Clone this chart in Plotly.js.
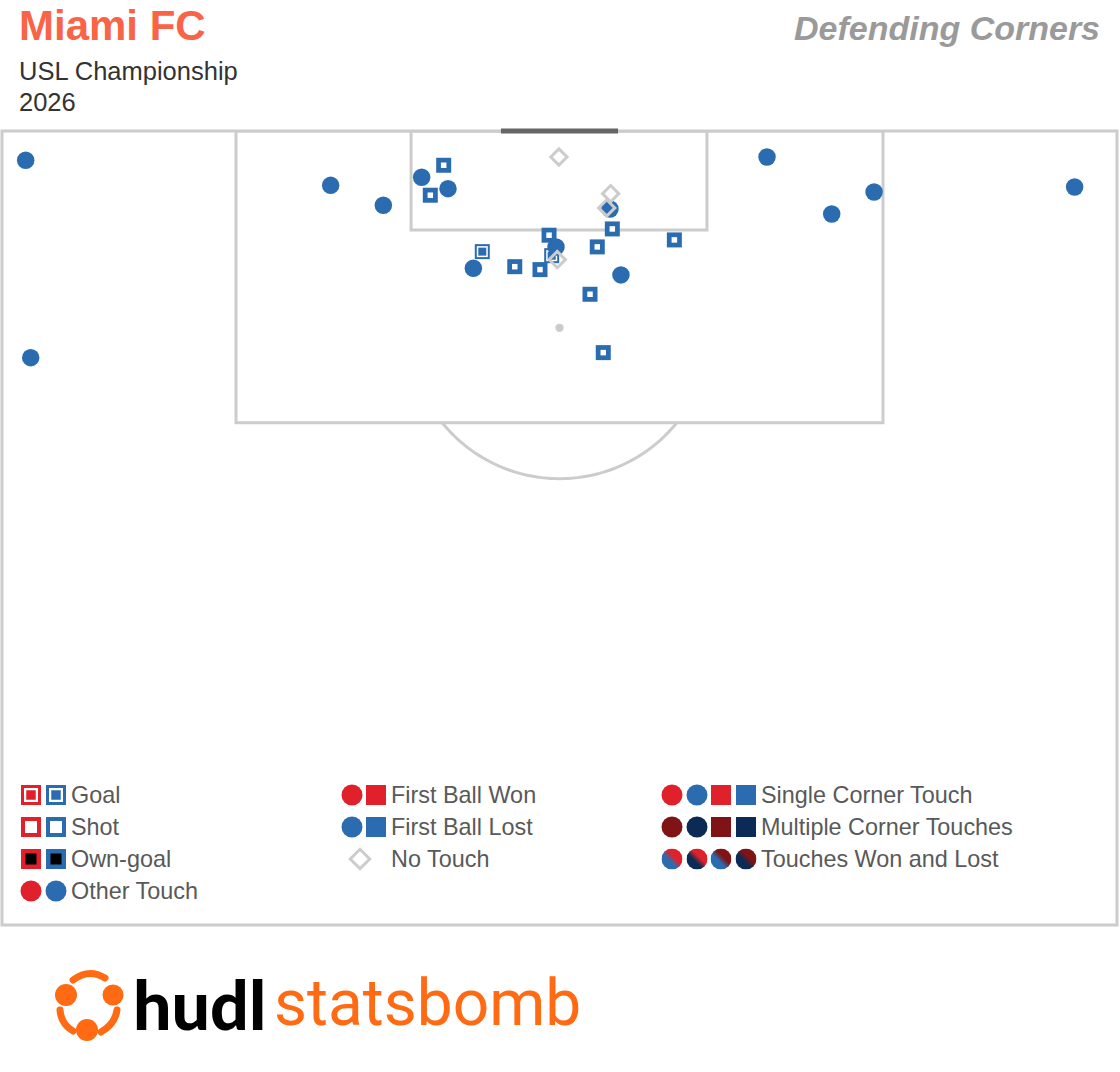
<!DOCTYPE html>
<html>
<head>
<meta charset="utf-8">
<script src="https://cdn.plot.ly/plotly-3.0.1.min.js"></script>
<style>
html,body{margin:0;padding:0;background:#fff;}
#chart{width:1120px;height:1072px;}
</style>
</head>
<body>
<div id="chart"></div>
<script>
// ---------------- DATA (pitch units: x across the pitch 0..80, y = distance from goal line) -------------
// First Ball Lost - other touch (circles)
const lostTouchX = [1.70, 2.06, 23.58, 27.36, 30.11, 32.00, 43.62, 39.75, 33.82, 44.41, 54.89, 59.53, 62.57, 76.96];
const lostTouchY = [2.10, 16.27, 3.90, 5.33, 3.32, 4.14, 5.60, 8.32, 9.85, 10.33, 1.87, 5.96, 4.38, 4.02];
// First Ball Lost - shots (squares)
const lostShotX = [31.69, 30.73, 39.25, 43.79, 42.71, 48.24, 36.79, 38.60, 42.19, 43.14];
const lostShotY = [2.46, 4.61, 7.48, 7.03, 8.32, 7.82, 9.74, 9.95, 11.72, 15.91];
// First Ball Lost - goals
const lostGoalX = [34.46, 39.44];
const lostGoalY = [8.66, 8.95];
// No touch
const noTouchX = [39.96, 43.67, 43.39, 39.84];
const noTouchY = [1.87, 4.50, 5.52, 9.23];

// Legend labels
const legendCol1 = ['Goal', 'Shot', 'Own-goal', 'Other Touch'];
const legendCol2 = ['First Ball Won', 'First Ball Lost', 'No Touch'];
const legendCol3 = ['Single Corner Touch', 'Multiple Corner Touches', 'Touches Won and Lost'];

// Titles
const titleTeam = 'Miami FC';
const titleComp = 'USL Championship';
const titleSeason = '2026';
const titleRight = 'Defending Corners';

// ---------------- STYLE / GEOMETRY -------------
const BLUE = '#2b6cb1', RED = '#e0212b', DRED = '#801315', NAVY = '#0b2a55';
const LINE = '#cccccc', TXT = '#595959';
const FONT = 'Liberation Sans, Arial, Helvetica, sans-serif';
const W = 80, H = 57;
const pitch = {boxL:16.79, boxR:63.21, boxD:20.95, sixL:29.35, sixR:50.58, sixD:7.10,
               goalL:35.80, goalR:44.20, spotX:40, spotY:14.13, arcR:10.83};

// page-pixel helpers for paper-anchored items (plot area: x 2..1117, y 131..925)
const PL = 2, PR = 1117, PT = 131, PB = 925;
const px = p => (p - PL) / (PR - PL);
const py = p => (PB - p) / (PB - PT);

const traces = [];
// shots: blue square with white centre
traces.push({x: lostShotX, y: lostShotY, type:'scatter', mode:'markers', hoverinfo:'skip',
  marker:{symbol:'square', size:15, color:BLUE, line:{width:0}}});
traces.push({x: lostShotX, y: lostShotY, type:'scatter', mode:'markers', hoverinfo:'skip',
  marker:{symbol:'square', size:5.5, color:'#ffffff', line:{width:0}}});
// goals: blue square, white ring, blue centre
traces.push({x: lostGoalX, y: lostGoalY, type:'scatter', mode:'markers', hoverinfo:'skip',
  marker:{symbol:'square', size:15, color:BLUE, line:{width:0}}});
traces.push({x: lostGoalX, y: lostGoalY, type:'scatter', mode:'markers', hoverinfo:'skip',
  marker:{symbol:'square', size:11, color:'#ffffff', line:{width:0}}});
traces.push({x: lostGoalX, y: lostGoalY, type:'scatter', mode:'markers', hoverinfo:'skip',
  marker:{symbol:'square', size:8, color:BLUE, line:{width:0}}});
// other touch circles
traces.push({x: lostTouchX, y: lostTouchY, type:'scatter', mode:'markers', hoverinfo:'skip',
  marker:{symbol:'circle', size:17.5, color:BLUE, line:{width:0}}});
// no touch diamonds
traces.push({x: noTouchX, y: noTouchY, type:'scatter', mode:'markers', hoverinfo:'skip',
  marker:{symbol:'diamond-open', size:12.5, color:LINE, line:{width:3, color:LINE}}});

// ---------------- LEGEND (overlay axis in page pixels) -------------
const L1x = [31, 56], L1t = 69;
const L2c = 352, L2s = 376, L2d = 360, L2t = 389;
const L3x = [672, 697, 721, 746], L3t = 759;
const rows = [795, 827, 859, 891];
function lg(xs, ys, symbol, size, color, extra) {
  const m = Object.assign({symbol, size, color, line:{width:0}}, extra || {});
  traces.push({x: xs, y: ys, xaxis:'x2', yaxis:'y2', type:'scatter', mode:'markers', hoverinfo:'skip', marker:m});
}
// col 1
lg([L1x[0]], [rows[0]], 'square', 20, RED); lg([L1x[1]], [rows[0]], 'square', 20, BLUE);
lg(L1x, [rows[0], rows[0]], 'square', 14, '#ffffff');
lg([L1x[0]], [rows[0]], 'square', 9.5, RED); lg([L1x[1]], [rows[0]], 'square', 9.5, BLUE);
lg([L1x[0]], [rows[1]], 'square', 20, RED); lg([L1x[1]], [rows[1]], 'square', 20, BLUE);
lg(L1x, [rows[1], rows[1]], 'square', 12, '#ffffff');
lg([L1x[0]], [rows[2]], 'square', 20, RED); lg([L1x[1]], [rows[2]], 'square', 20, BLUE);
lg(L1x, [rows[2], rows[2]], 'square', 11, '#000000');
lg([L1x[0]], [rows[3]], 'circle', 21, RED); lg([L1x[1]], [rows[3]], 'circle', 21, BLUE);
// col 2
lg([L2c], [rows[0]], 'circle', 21, RED); lg([L2s], [rows[0]], 'square', 20, RED);
lg([L2c], [rows[1]], 'circle', 21, BLUE); lg([L2s], [rows[1]], 'square', 20, BLUE);
lg([L2d], [rows[2]], 'diamond-open', 15, LINE, {line:{width:3, color:LINE}});
// col 3
lg([L3x[0]], [rows[0]], 'circle', 21, RED); lg([L3x[1]], [rows[0]], 'circle', 21, BLUE);
lg([L3x[2]], [rows[0]], 'square', 20, RED); lg([L3x[3]], [rows[0]], 'square', 20, BLUE);
lg([L3x[0]], [rows[1]], 'circle', 21, DRED); lg([L3x[1]], [rows[1]], 'circle', 21, NAVY);
lg([L3x[2]], [rows[1]], 'square', 20, DRED); lg([L3x[3]], [rows[1]], 'square', 20, NAVY);

function splitCircle(lo, hi) {
  const svg = "<svg xmlns='http://www.w3.org/2000/svg' width='42' height='42' viewBox='0 0 42 42'>" +
    "<defs><linearGradient id='g' x1='0' y1='1' x2='1' y2='0'>" +
    "<stop offset='0.40' stop-color='" + lo + "'/><stop offset='0.60' stop-color='" + hi + "'/>" +
    "</linearGradient></defs><circle cx='21' cy='21' r='21' fill='url(#g)'/></svg>";
  return 'data:image/svg+xml;charset=utf-8,' + encodeURIComponent(svg);
}
const splitPairs = [[BLUE, RED], [NAVY, RED], [BLUE, DRED], [NAVY, DRED]];
const images = splitPairs.map((p, i) => ({source: splitCircle(p[0], p[1]), xref:'x2', yref:'y2',
  x: L3x[i], y: rows[2], sizex: 21, sizey: 21, xanchor:'center', yanchor:'middle', sizing:'stretch', layer:'above'}));

// logo icon
const OR = '#ff6a13';
const iconSvg = "<svg xmlns='http://www.w3.org/2000/svg' width='144' height='148' viewBox='0 0 72 74'>" +
  "<g fill='" + OR + "'><circle cx='13' cy='27' r='11'/><circle cx='60' cy='27' r='10.5'/><circle cx='34' cy='62' r='11'/></g>" +
  "<g fill='none' stroke='" + OR + "' stroke-width='7' stroke-linecap='round'>" +
  "<path d='M20 12 Q36 0 52 10'/><path d='M64 42 Q62 56 48 64'/><path d='M7 42 Q8 56 20 63'/></g></svg>";
images.push({source: 'data:image/svg+xml;charset=utf-8,' + encodeURIComponent(iconSvg), xref:'paper', yref:'paper',
  x: px(53), y: py(968), sizex: 72/(PR-PL), sizey: 74/(PB-PT), xanchor:'left', yanchor:'top', sizing:'stretch', layer:'above'});

// ---------------- ANNOTATIONS -------------
const ann = [];
function legText(t, x, y) {
  ann.push({text: t, x, y, xref:'x2', yref:'y2', xanchor:'left', yanchor:'middle', showarrow:false,
    font:{family:FONT, size:23.4, color:TXT}});
}
legendCol1.forEach((t, i) => legText(t, L1t, rows[i]));
legendCol2.forEach((t, i) => legText(t, L2t, rows[i]));
legendCol3.forEach((t, i) => legText(t, L3t, rows[i]));

ann.push({text: '<b>' + titleTeam + '</b>', xref:'paper', yref:'paper', x: px(17), y: py(25), xanchor:'left', yanchor:'middle',
  showarrow:false, font:{family:FONT, size:42, color:'#fa6446'}});
ann.push({text: titleComp, xref:'paper', yref:'paper', x: px(17), y: py(71), xanchor:'left', yanchor:'middle',
  showarrow:false, font:{family:FONT, size:25.5, color:'#333333'}});
ann.push({text: titleSeason, xref:'paper', yref:'paper', x: px(17), y: py(102), xanchor:'left', yanchor:'middle',
  showarrow:false, font:{family:FONT, size:25.5, color:'#333333'}});
ann.push({text: '<b><i>' + titleRight + '</i></b>', xref:'paper', yref:'paper', x: px(1102), y: py(28), xanchor:'right', yanchor:'middle',
  showarrow:false, font:{family:FONT, size:34, color:'#9a9a9a'}});
// logo words
ann.push({text: 'hudl', xref:'paper', yref:'paper', x: px(131), y: py(1003), xanchor:'left', yanchor:'middle',
  showarrow:false, font:{family:'Lato, Roboto, sans-serif', size:68, weight:900, color:'#000000'}});
ann.push({text: 'statsbomb', xref:'paper', yref:'paper', x: px(272), y: py(1003), xanchor:'left', yanchor:'middle',
  showarrow:false, font:{family:'Roboto, Open Sans, sans-serif', size:64, weight:400, color:OR}});

// ---------------- PITCH SHAPES -------------
const arcPts = [];
const phi0 = Math.acos((pitch.boxD - pitch.spotY) / pitch.arcR);
for (let i = 0; i <= 60; i++) {
  const f = -phi0 + (2 * phi0) * i / 60;
  arcPts.push([pitch.spotX + pitch.arcR * Math.sin(f), pitch.spotY + pitch.arcR * Math.cos(f)]);
}
const arcPath = 'M' + arcPts.map(p => p[0].toFixed(3) + ',' + p[1].toFixed(3)).join(' L');
const ln = {color: LINE, width: 3};
const shapes = [
  {type:'rect', xref:'x', yref:'y', x0:pitch.boxL, x1:pitch.boxR, y0:0, y1:pitch.boxD, line:ln, layer:'below'},
  {type:'rect', xref:'x', yref:'y', x0:pitch.sixL, x1:pitch.sixR, y0:0, y1:pitch.sixD, line:ln, layer:'below'},
  {type:'path', xref:'x', yref:'y', path: arcPath, line:ln, layer:'below'},
  {type:'circle', xref:'x', yref:'y', x0:pitch.spotX-0.3, x1:pitch.spotX+0.3, y0:pitch.spotY-0.3, y1:pitch.spotY+0.3,
    fillcolor:LINE, line:{width:0}, layer:'below'},
  {type:'rect', xref:'paper', yref:'paper', x0:0, x1:1, y0:0, y1:1, line:ln, layer:'below'},
  {type:'line', xref:'paper', yref:'paper', x0:pitch.goalL / W, x1:pitch.goalR / W, y0:1, y1:1,
    line:{color:'#666666', width:5}, layer:'above'}
];

const layout = {
  width:1120, height:1072,
  margin:{l:PL, r:1120-PR, t:PT, b:1072-PB, pad:0},
  paper_bgcolor:'#ffffff', plot_bgcolor:'#ffffff',
  showlegend:false,
  xaxis:{range:[0, W], visible:false, fixedrange:true},
  yaxis:{range:[H, 0], visible:false, fixedrange:true},
  xaxis2:{range:[PL, PR], visible:false, overlaying:'x', anchor:'y2', fixedrange:true},
  yaxis2:{range:[PB, PT], visible:false, overlaying:'y', anchor:'x2', fixedrange:true},
  shapes, annotations: ann, images
};
Plotly.newPlot('chart', traces, layout, {displayModeBar:false, staticPlot:true});
</script>
</body>
</html>
